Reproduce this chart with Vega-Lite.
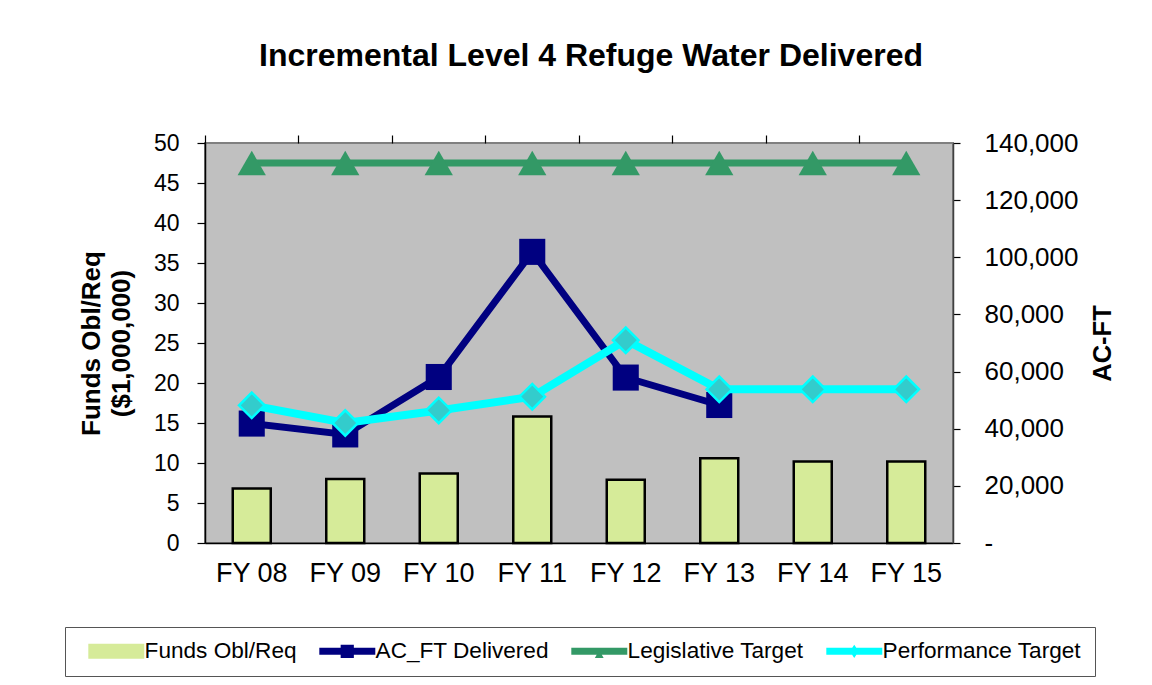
{
  "$schema": "https://vega.github.io/schema/vega-lite/v6.json",
  "width": 748,
  "height": 400,
  "autosize": {"type": "none"},
  "padding": {"left": 205, "top": 143, "right": 199, "bottom": 142},
  "background": "white",
  "config": {
    "font": "Liberation Sans",
    "view": {"fill": "#c0c0c0", "stroke": "#808080", "strokeWidth": 2}
  },
  "title": {
    "text": "Incremental Level 4 Refuge Water Delivered",
    "font": "Liberation Sans",
    "fontSize": 32,
    "fontWeight": "bold",
    "color": "black",
    "anchor": "middle",
    "baseline": "alphabetic",
    "dx": 12,
    "offset": 32
  },
  "data": {
    "values": [
      {"year": "FY 08", "series": "Funds Obl/Req", "value": 6.8},
      {"year": "FY 09", "series": "Funds Obl/Req", "value": 8.0},
      {"year": "FY 10", "series": "Funds Obl/Req", "value": 8.7},
      {"year": "FY 11", "series": "Funds Obl/Req", "value": 15.8},
      {"year": "FY 12", "series": "Funds Obl/Req", "value": 7.9},
      {"year": "FY 13", "series": "Funds Obl/Req", "value": 10.6},
      {"year": "FY 14", "series": "Funds Obl/Req", "value": 10.2},
      {"year": "FY 15", "series": "Funds Obl/Req", "value": 10.2},
      {"year": "FY 08", "series": "AC_FT Delivered", "value": 41800},
      {"year": "FY 09", "series": "AC_FT Delivered", "value": 38000},
      {"year": "FY 10", "series": "AC_FT Delivered", "value": 58100},
      {"year": "FY 11", "series": "AC_FT Delivered", "value": 101900},
      {"year": "FY 12", "series": "AC_FT Delivered", "value": 57900},
      {"year": "FY 13", "series": "AC_FT Delivered", "value": 48300},
      {"year": "FY 08", "series": "Legislative Target", "value": 133000},
      {"year": "FY 09", "series": "Legislative Target", "value": 133000},
      {"year": "FY 10", "series": "Legislative Target", "value": 133000},
      {"year": "FY 11", "series": "Legislative Target", "value": 133000},
      {"year": "FY 12", "series": "Legislative Target", "value": 133000},
      {"year": "FY 13", "series": "Legislative Target", "value": 133000},
      {"year": "FY 14", "series": "Legislative Target", "value": 133000},
      {"year": "FY 15", "series": "Legislative Target", "value": 133000},
      {"year": "FY 08", "series": "Performance Target", "value": 48200},
      {"year": "FY 09", "series": "Performance Target", "value": 42000},
      {"year": "FY 10", "series": "Performance Target", "value": 46400},
      {"year": "FY 11", "series": "Performance Target", "value": 51200},
      {"year": "FY 12", "series": "Performance Target", "value": 71000},
      {"year": "FY 13", "series": "Performance Target", "value": 53800},
      {"year": "FY 14", "series": "Performance Target", "value": 53800},
      {"year": "FY 15", "series": "Performance Target", "value": 53800}
    ]
  },
  "layer": [
    {
      "transform": [{"filter": "datum.series === 'Funds Obl/Req'"}],
      "mark": {"type": "bar", "size": 38, "stroke": "black", "strokeWidth": 2.5},
      "encoding": {
        "x": {
          "field": "year", "type": "nominal", "sort": null,
          "scale": {"type": "band", "paddingInner": 0, "paddingOuter": 0},
          "axis": {
            "title": null, "labelAngle": 0, "labelFontSize": 27, "labelColor": "black",
            "labelFont": "Liberation Sans", "ticks": false, "domainColor": "black",
            "domainWidth": 1.5, "labelPadding": 17
          }
        },
        "y": {
          "field": "value", "type": "quantitative",
          "scale": {"domain": [0, 50], "nice": false},
          "axis": {
            "orient": "left",
            "values": [0, 5, 10, 15, 20, 25, 30, 35, 40, 45, 50],
            "title": ["Funds Obl/Req", "($1,000,000)"],
            "titleFontSize": 26, "titleFontWeight": "bold", "titleColor": "black",
            "titleLineHeight": 30, "titlePadding": 19,
            "labelFontSize": 23, "labelColor": "black", "labelPadding": 18,
            "grid": false, "tickSize": 8, "tickColor": "black", "tickWidth": 1.2,
            "domainColor": "black", "domainWidth": 1.5
          }
        },
        "color": {
          "field": "series", "type": "nominal",
          "scale": {
            "domain": ["Funds Obl/Req", "AC_FT Delivered", "Legislative Target", "Performance Target"],
            "range": ["#d6eb99", "#000080", "#339966", "#00ffff"]
          },
          "legend": {
            "orient": "none", "legendX": -140, "legendY": 484,
            "direction": "horizontal", "columns": 4, "title": null,
            "labelFontSize": 22.6, "labelColor": "black", "labelFont": "Liberation Sans",
            "labelLimit": 400, "symbolSize": 484, "labelOffset": 44,
            "symbolType": "M-0.09,-0.32H5V0.32H-0.09Z",
            "symbolStrokeWidth": 0, "symbolOpacity": 1,
            "columnPadding": 12, "padding": 13, "strokeColor": "#555555"
          }
        }
      }
    },
    {
      "encoding": {
        "x": {
          "field": "year", "type": "nominal", "sort": null,
          "axis": {
            "title": null, "labels": false, "ticks": true, "tickSize": 8,
            "tickColor": "black", "tickWidth": 1.2, "bandPosition": 0, "domain": false
          }
        },
        "y": {
          "field": "value", "type": "quantitative",
          "scale": {"domain": [0, 140000], "nice": false},
          "axis": {
            "orient": "right",
            "values": [0, 20000, 40000, 60000, 80000, 100000, 120000, 140000],
            "labelExpr": "datum.value === 0 ? '-' : format(datum.value, ',')",
            "title": "AC-FT", "titleAngle": -90, "titleFontSize": 25.5, "titleFontWeight": "bold",
            "titleColor": "black", "titlePadding": 38,
            "labelFontSize": 26, "labelColor": "black", "labelPadding": 24,
            "grid": false, "tickSize": 7, "tickColor": "black", "tickWidth": 1.2,
            "domainColor": "#404040", "domainWidth": 1.5
          }
        }
      },
      "layer": [
        {
          "transform": [{"filter": "datum.series === 'Legislative Target'"}],
          "mark": {"type": "line", "strokeWidth": 7},
          "encoding": {"color": {"field": "series", "type": "nominal"}}
        },
        {
          "transform": [{"filter": "datum.series === 'Legislative Target'"}],
          "mark": {"type": "point", "shape": "triangle-up", "size": 800, "filled": true, "fill": "#339966", "opacity": 1}
        },
        {
          "transform": [{"filter": "datum.series === 'AC_FT Delivered'"}],
          "mark": {"type": "line", "strokeWidth": 7},
          "encoding": {"color": {"field": "series", "type": "nominal"}}
        },
        {
          "transform": [{"filter": "datum.series === 'AC_FT Delivered'"}],
          "mark": {"type": "point", "shape": "square", "size": 680, "filled": true, "fill": "#000080", "opacity": 1}
        },
        {
          "transform": [{"filter": "datum.series === 'Performance Target'"}],
          "mark": {"type": "line", "strokeWidth": 8},
          "encoding": {"color": {"field": "series", "type": "nominal"}}
        },
        {
          "transform": [{"filter": "datum.series === 'Performance Target'"}],
          "mark": {"type": "point", "shape": "diamond", "size": 650, "filled": true, "fill": "#33cccc", "stroke": "#00ffff", "strokeWidth": 2.5, "opacity": 1}
        },
        {
          "mark": {"type": "point", "filled": true, "size": 1, "opacity": 0},
          "encoding": {
            "color": {"field": "series", "type": "nominal"},
            "shape": {
              "field": "series", "type": "nominal",
              "scale": {
                "domain": ["Funds Obl/Req", "AC_FT Delivered", "Legislative Target", "Performance Target"],
                "range": [
                  "M-0.09,-0.68H5V0.68H-0.09Z",
                  "M-0.09,-0.32H5V0.32H-0.09Z M1.85,-0.6H3.05V0.6H1.85Z",
                  "M-0.09,-0.32H5V0.32H-0.09Z M2.45,-0.1L2.85,0.6H2.05Z",
                  "M-0.09,-0.32H5V0.32H-0.09Z M2.45,-0.6L2.85,0L2.45,0.6L2.05,0Z"
                ]
              },
              "legend": {
                "orient": "none", "legendX": -140, "legendY": 484,
                "direction": "horizontal", "columns": 4, "title": null,
                "labelFontSize": 22.6, "labelColor": "black", "labelFont": "Liberation Sans",
                "labelLimit": 400, "symbolSize": 484, "labelOffset": 44,
                "symbolStrokeWidth": 0, "symbolOpacity": 1,
                "columnPadding": 12, "padding": 13, "strokeColor": "#555555"
              }
            }
          }
        }
      ]
    }
  ],
  "resolve": {"scale": {"y": "independent"}, "axis": {"x": "independent"}}
}
